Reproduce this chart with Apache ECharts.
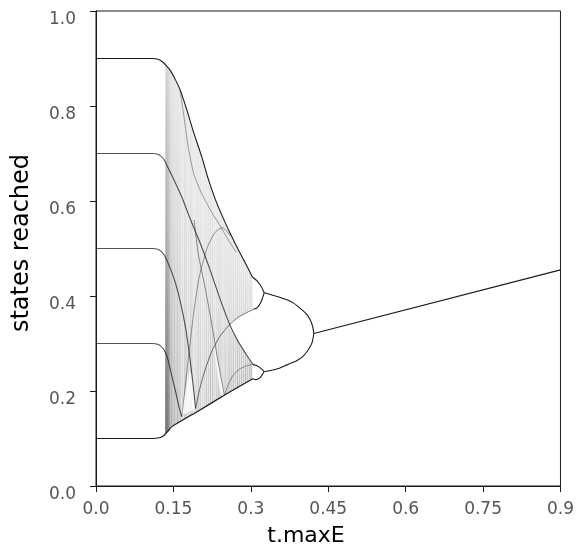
<!DOCTYPE html>
<html>
<head>
<meta charset="utf-8">
<script src="https://cdn.jsdelivr.net/npm/echarts@6/dist/echarts.min.js"></script>
<style>
  html, body { margin: 0; padding: 0; background: #fff; }
  #chart { width: 577px; height: 555px; }
</style>
</head>
<body>
<div id="chart"></div>
<script>
// Axis ticks
const xTickLabels = ['0.0', '0.15', '0.3', '0.45', '0.6', '0.75', '0.9'];
const yTickLabels = ['0.0', '0.2', '0.4', '0.6', '0.8', '1.0'];

// Upper edge of the reachable set: the 0.9 start value bending into the chaotic band
const upperEdge = [[0, 0.9], [0.11, 0.9], [0.118, 0.899], [0.125, 0.896], [0.131, 0.891], [0.137, 0.884],
  [0.144, 0.875], [0.154, 0.855], [0.163, 0.834], [0.176, 0.792], [0.189, 0.745], [0.205, 0.693],
  [0.217, 0.648], [0.231, 0.604], [0.246, 0.565], [0.26, 0.532], [0.273, 0.503], [0.29, 0.468], [0.303, 0.44]];
// Lower edge: the 0.1 start value bending up into a straight rising boundary
const lowerEdge = [[0, 0.1], [0.112, 0.1], [0.12, 0.101], [0.127, 0.103], [0.133, 0.108], [0.139, 0.115],
  [0.147, 0.125], [0.2, 0.159], [0.25, 0.192], [0.304, 0.226]];
// Remaining start values and the curves they trace through the band
const branch70 = [[0, 0.7], [0.11, 0.7], [0.118, 0.699], [0.125, 0.695], [0.132, 0.687], [0.141, 0.667],
  [0.153, 0.64], [0.166, 0.609], [0.176, 0.581], [0.186, 0.553], [0.202, 0.511], [0.221, 0.455],
  [0.24, 0.395], [0.259, 0.34], [0.275, 0.305], [0.29, 0.279], [0.304, 0.256]];
const branch50 = [[0, 0.5], [0.11, 0.5], [0.118, 0.499], [0.125, 0.495], [0.131, 0.488], [0.137, 0.476],
  [0.145, 0.455], [0.154, 0.427], [0.164, 0.385], [0.174, 0.33], [0.183, 0.26], [0.189, 0.205], [0.193, 0.163]];
const branch30 = [[0, 0.3], [0.11, 0.3], [0.118, 0.299], [0.125, 0.295], [0.131, 0.288], [0.138, 0.272],
  [0.144, 0.245], [0.154, 0.2], [0.161, 0.166], [0.166, 0.146]];
// Curves leaving the lower edge again, and other folds inside the band
const rise30 = [[0.166, 0.146], [0.172, 0.2], [0.18, 0.28], [0.19, 0.37], [0.2, 0.44], [0.215, 0.5],
  [0.23, 0.533], [0.245, 0.544], [0.26, 0.527]];
const rise50 = [[0.193, 0.163], [0.2, 0.2], [0.21, 0.24], [0.225, 0.285], [0.24, 0.315], [0.259, 0.34],
  [0.275, 0.355], [0.29, 0.364], [0.305, 0.372]];
const steepFold = [[0.19, 0.56], [0.198, 0.49], [0.211, 0.42], [0.223, 0.349], [0.236, 0.265], [0.249, 0.19]];
const riseSteep = [[0.249, 0.19], [0.256, 0.213], [0.265, 0.232], [0.278, 0.246], [0.292, 0.253], [0.304, 0.256]];
const innerUpper = [[0.163, 0.834], [0.172, 0.765], [0.18, 0.705], [0.19, 0.655], [0.205, 0.615],
  [0.225, 0.575], [0.242, 0.545], [0.258, 0.515], [0.272, 0.492]];
// Sparsely visited pockets near the lower edge
const pocketA = [[0.167, 0.152], [0.172, 0.19], [0.178, 0.225], [0.183, 0.24], [0.188, 0.215], [0.192, 0.18], [0.193, 0.164]];
const pocketB = [[0.229, 0.3], [0.236, 0.262], [0.243, 0.225], [0.249, 0.193], [0.243, 0.19], [0.237, 0.225], [0.232, 0.262]];
// Period-4 windows
const bubbleUpperTop = [[0.303, 0.44], [0.312, 0.432], [0.32, 0.42], [0.326, 0.407]];
const bubbleUpperBottom = [[0.305, 0.372], [0.312, 0.375], [0.32, 0.388], [0.326, 0.407]];
const bubbleLowerTop = [[0.304, 0.256], [0.312, 0.253], [0.32, 0.247], [0.326, 0.241]];
const bubbleLowerBottom = [[0.304, 0.226], [0.31, 0.224], [0.318, 0.228], [0.326, 0.241]];
// Period-2 cycle and the single fixed point after it merges
const cycleUpper = [[0.326, 0.407], [0.351, 0.399], [0.37, 0.392], [0.383, 0.385], [0.398, 0.372],
  [0.408, 0.362], [0.415, 0.35], [0.42, 0.335], [0.422, 0.321]];
const cycleLower = [[0.326, 0.241], [0.338, 0.243], [0.355, 0.248], [0.37, 0.255], [0.388, 0.263],
  [0.402, 0.274], [0.412, 0.288], [0.419, 0.303], [0.422, 0.321]];
const fixedPoint = [[0.422, 0.321], [0.9, 0.455]];
// Density of visited states along t (vertical streaks in the band)
const streaks = [[0.135, 0.8], [0.137, 0.75], [0.139, 0.7], [0.141, 0.6], [0.143, 0.5], [0.146, 0.45],
  [0.149, 0.4], [0.152, 0.35], [0.155, 0.3], [0.158, 0.35], [0.161, 0.3], [0.164, 0.25], [0.168, 0.2],
  [0.172, 0.3], [0.175, 0.25], [0.179, 0.2], [0.183, 0.3], [0.186, 0.25], [0.19, 0.15], [0.194, 0.2],
  [0.198, 0.3], [0.202, 0.25], [0.206, 0.15], [0.21, 0.2], [0.214, 0.3], [0.218, 0.25], [0.222, 0.35],
  [0.226, 0.3], [0.23, 0.2], [0.234, 0.25], [0.238, 0.35], [0.242, 0.3], [0.246, 0.2], [0.25, 0.3],
  [0.254, 0.25], [0.258, 0.35], [0.262, 0.3], [0.266, 0.35], [0.27, 0.25], [0.274, 0.4], [0.278, 0.3],
  [0.282, 0.35], [0.286, 0.3], [0.29, 0.4], [0.294, 0.3], [0.298, 0.35], [0.301, 0.3]];

function edgeAt(edge, t) {
  for (let i = 1; i < edge.length; i++) {
    if (edge[i][0] >= t) {
      const a = edge[i - 1], b = edge[i];
      const f = (t - a[0]) / (b[0] - a[0] || 1);
      return a[1] + f * (b[1] - a[1]);
    }
  }
  return edge[edge.length - 1][1];
}

const bandStart = 0.135;
const splitT = 0.259;
const bandOutline = [[bandStart, edgeAt(lowerEdge, bandStart)], [bandStart, edgeAt(upperEdge, bandStart)]]
  .concat(upperEdge.filter(p => p[0] > bandStart))
  .concat(rise50.filter(p => p[0] >= splitT).slice().reverse())
  .concat(branch70.filter(p => p[0] > splitT))
  .concat(lowerEdge.filter(p => p[0] > bandStart).slice().reverse());
const gapOutline = rise50.filter(p => p[0] >= splitT)
  .concat(branch70.filter(p => p[0] > splitT).slice().reverse());

const ink = '#1a1a1a';
const fontFamily = 'DejaVu Sans';

function curve(data, color, width, opacity, smooth) {
  return {
    type: 'line', data: data, showSymbol: false, smooth: smooth === undefined ? 0.2 : smooth,
    lineStyle: { color: color, width: width, opacity: opacity === undefined ? 1 : opacity },
    silent: true, animation: false, z: 5
  };
}

function region(points, fill, z) {
  return {
    type: 'custom', silent: true, z: z, data: [[0, 0]],
    renderItem: (params, api) => ({
      type: 'polygon',
      shape: { points: points.map(p => api.coord(p)), smooth: 0.3 },
      style: { fill: fill, stroke: null }
    })
  };
}

const chart = echarts.init(document.getElementById('chart'));
chart.setOption({
  animation: false,
  grid: { left: 96, top: 11, right: 9, bottom: 69, show: true, borderColor: ink, borderWidth: 1, backgroundColor: 'transparent' },
  xAxis: {
    type: 'value', min: 0, max: 0.9, interval: 0.15,
    axisLine: { lineStyle: { color: ink } },
    axisTick: { length: 6, lineStyle: { color: ink } },
    splitLine: { show: false },
    axisLabel: { color: '#555', fontSize: 17, fontFamily: fontFamily, margin: 15,
      formatter: (v, i) => xTickLabels[i] }
  },
  yAxis: {
    type: 'value', min: 0, max: 1, interval: 0.2,
    axisLine: { lineStyle: { color: ink } },
    axisTick: { length: 6, lineStyle: { color: ink } },
    splitLine: { show: false },
    axisLabel: { color: '#555', fontSize: 17, fontFamily: fontFamily, margin: 20,
      verticalAlign: 'top', formatter: (v, i) => yTickLabels[i] }
  },
  graphic: [
    { type: 'text', x: 306, y: 536, style: { text: 't.maxE', font: '22px "DejaVu Sans"', fill: '#000',
      textAlign: 'center', textVerticalAlign: 'middle' } },
    { type: 'text', x: 22, y: 243, rotation: Math.PI / 2, style: { text: 'states reached', font: '24px "DejaVu Sans"',
      fill: '#000', textAlign: 'center', textVerticalAlign: 'middle' } }
  ],
  series: [
    {
      type: 'custom', silent: true, z: 1, data: [[0, 0]],
      renderItem: (params, api) => ({
        type: 'polygon',
        shape: { points: bandOutline.map(p => api.coord(p)) },
        style: { fill: 'rgba(0,0,0,0.06)', stroke: null }
      })
    },
    {
      type: 'custom', silent: true, z: 2, data: streaks,
      renderItem: (params, api) => {
        const t = api.value(0), d = api.value(1);
        const top = api.coord([t, edgeAt(upperEdge, t)]);
        const bot = api.coord([t, edgeAt(lowerEdge, t)]);
        const w = api.size([0.0025, 0])[0];
        return {
          type: 'rect',
          shape: { x: top[0] - w / 2, y: top[1], width: w, height: bot[1] - top[1] },
          style: { fill: new echarts.graphic.LinearGradient(0, 0, 0, 1, [
            { offset: 0, color: 'rgba(0,0,0,' + (d * 0.12) + ')' },
            { offset: 0.5, color: 'rgba(0,0,0,' + (d * 0.3) + ')' },
            { offset: 1, color: 'rgba(0,0,0,' + (d * 0.6) + ')' }]) }
        };
      }
    },
    region(gapOutline, '#fff', 3),
    region(pocketA, 'rgba(255,255,255,0.8)', 3),
    region(pocketB, 'rgba(255,255,255,0.8)', 3),
    curve(upperEdge, ink, 1.1),
    curve(lowerEdge, ink, 1.2),
    curve(branch70, ink, 1.1, 0.75),
    curve(branch50, ink, 1.1, 0.75),
    curve(branch30, ink, 1.1, 0.75),
    curve(rise30, '#333', 1, 0.5),
    curve(rise50, '#333', 1, 0.7),
    curve(steepFold, '#333', 1, 0.55),
    curve(riseSteep, '#333', 1, 0.5),
    curve(innerUpper, '#333', 1, 0.45),
    curve(bubbleUpperTop, ink, 1.1),
    curve(bubbleUpperBottom, ink, 1.1),
    curve(bubbleLowerTop, ink, 1.1),
    curve(bubbleLowerBottom, ink, 1.1),
    curve(cycleUpper, ink, 1.1),
    curve(cycleLower, ink, 1.1),
    curve(fixedPoint, ink, 1.1, 1, false)
  ]
});
</script>
</body>
</html>
